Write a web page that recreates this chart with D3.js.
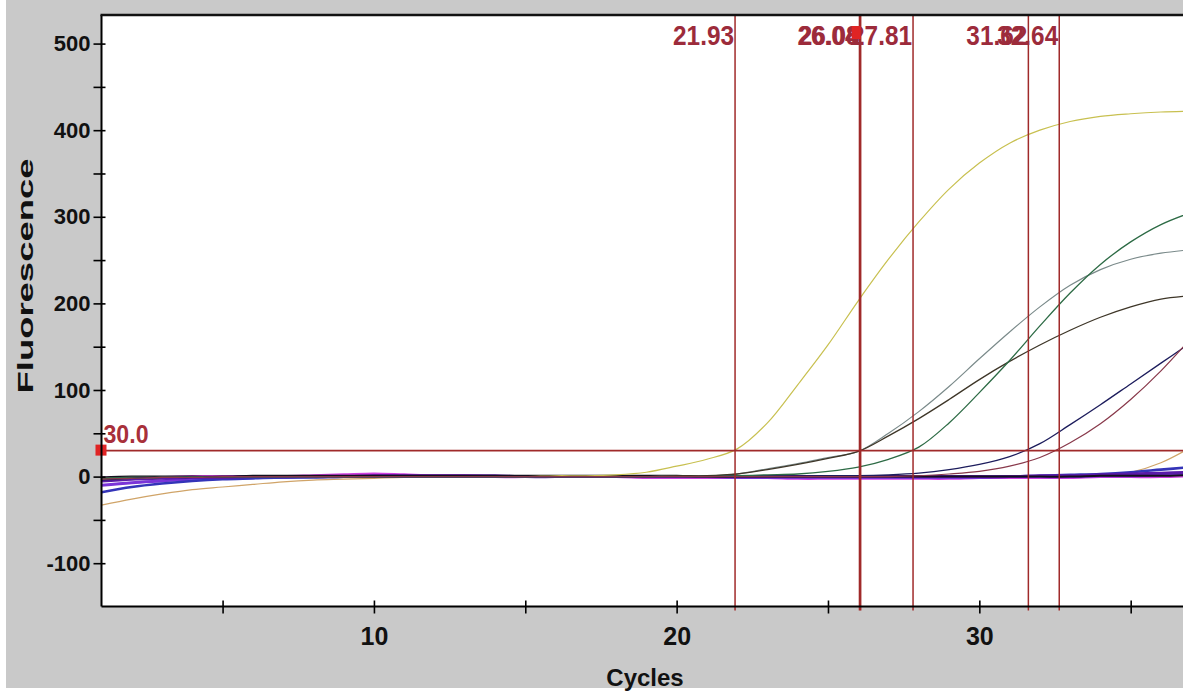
<!DOCTYPE html>
<html><head><meta charset="utf-8">
<script src="https://cdn.jsdelivr.net/npm/d3@7"></script>
<style>html,body{margin:0;padding:0;background:#fff;} svg{display:block;}</style>
</head><body><svg id="c" width="1183" height="695"></svg>
<script>
// ---------- data ----------
const cycles = d3.range(1, 38); // 1..37
const yellowCurve = [-3,-2,-1,-1,0,0,0,0,0,0,0,0,0,0,0,1,1,2,5,12,20,32,62,106,152,203,251,294,332,362,385,400,410,416,419,421,422];
const grayCurve   = [-2,-1,-1,0,0,0,0,0,0,0,0,0,0,0,0,0,0,0,0,1,1,3,9,15,22,29,50,75,104,136,167,196,221,239,251,258,262];
const darkCurve   = [-2,-1,-1,0,0,0,0,0,0,0,0,0,0,0,0,0,0,0,0,1,1,3,8,14,21,29,47,67,89,112,133,152,169,184,196,205,209];
const greenCurve  = [-2,-1,-1,0,0,0,0,0,0,0,0,0,0,0,0,0,0,0,0,0,0,1,2,3,6,11,20,34,62,97,134,174,212,245,271,291,305];
const navyCurve   = [-4,-2,-1,-1,0,0,0,0,0,0,0,0,0,0,0,0,0,0,0,0,0,0,0,0,1,1,2,4,8,14,23,38,60,83,107,131,155];
const maroonCurve = [-3,-2,-1,-1,0,0,0,0,0,0,0,0,0,0,0,0,0,0,0,0,0,0,0,0,0,0,0,1,3,6,12,22,39,61,89,122,160];
const tanCurve    = [-33,-26,-20,-15,-12,-9,-6,-4,-3,-2,-1,-1,-1,0,0,0,0,0,0,0,0,0,0,0,0,0,0,0,0,0,0,0,0,1,5,16,34];
const purpleBase  = [-5,-3,-2,-1,-1,0,0,0,0,1,1,1,1,1,0,0,0,0,0,0,0,0,0,0,0,0,0,0,0,0,0,1,1,2,3,4,5];
const violetBase  = [-10,-7,-5,-3,-2,-1,-1,0,0,0,0,0,0,0,0,0,0,0,0,0,0,-1,-1,-1,-1,-1,-1,-1,-1,-1,0,0,0,1,1,2,3];
const blueBase    = [-18,-12,-8,-5,-3,-2,-1,-1,0,0,0,0,0,0,0,0,0,0,0,0,0,0,0,0,0,0,0,0,0,0,0,1,2,3,5,8,11];
const blackBase   = [-1,0,0,0,0,1,1,1,1,1,1,1,1,1,1,1,1,1,1,1,0,0,0,0,0,0,0,0,0,0,0,0,0,1,1,1,2];
const magentaBase = [-2,-1,-1,0,0,0,0,1,2,3,2,1,1,0,0,0,0,0,-1,-1,-1,-1,-1,-2,-2,-2,-2,-2,-2,-1,-1,-1,-1,0,0,0,1];

const ctValues = [21.93, 26.04, 26.08, 27.81, 31.62, 32.64];
const ctLabels = ["21.93", "26.04", "26.08", "27.81", "31.62", "32.64"];
const threshold = 30;
const thresholdLabel = "30.0";
const xTickValues = [5,10,15,20,25,30,35];
const xTickLabels = {10:"10", 20:"20", 30:"30"};
const yTickValues = [-100,-50,0,50,100,150,200,250,300,350,400,450,500];
const yTickLabels = {"-100":"-100", "0":"0", "100":"100", "200":"200", "300":"300", "400":"400", "500":"500"};
const xTitle = "Cycles";
const yTitle = "Fluorescence";

const series = [
  {v: tanCurve,    c: "#d0a468", w: 1.2},
  {v: magentaBase, c: "#d040e0", w: 3},
  {v: violetBase,  c: "#7a34d8", w: 3},
  {v: blueBase,    c: "#3434b8", w: 2.6},
  {v: purpleBase,  c: "#5a1aa8", w: 3},
  {v: blackBase,   c: "#14101e", w: 2},
  {v: yellowCurve, c: "#c8c050", w: 1.2},
  {v: grayCurve,   c: "#7a8a8a", w: 1.2},
  {v: darkCurve,   c: "#3e3628", w: 1.3},
  {v: greenCurve,  c: "#2d6b45", w: 1.3},
  {v: navyCurve,   c: "#1c1c5c", w: 1.3},
  {v: maroonCurve, c: "#88384a", w: 1.2}
];

// ---------- layout ----------
const svg = d3.select("#c");
const W = 1183, H = 695;
const x = d3.scaleLinear().domain([1, 40]).range([101.5, 101.5 + 39 * 30.27]);
const y = d3.scaleLinear().domain([-150, 533]).range([606.5, 15]);
const plotL = x(1), plotT = y(533), plotB = y(-150);

svg.append("rect").attr("x", 0).attr("y", 0).attr("width", W).attr("height", H).attr("fill", "#ffffff");
svg.append("rect").attr("x", 6).attr("y", 0).attr("width", W - 6).attr("height", 688).attr("fill", "#c9c9c9");
svg.append("rect").attr("x", plotL).attr("y", plotT).attr("width", W - plotL).attr("height", plotB - plotT).attr("fill", "#ffffff");

svg.append("clipPath").attr("id", "clip").append("rect")
  .attr("x", plotL).attr("y", plotT).attr("width", W - plotL).attr("height", plotB - plotT);

const g = svg.append("g").attr("clip-path", "url(#clip)");
const line = d3.line().x((d, i) => x(cycles[i])).y(d => y(d)).curve(d3.curveCatmullRom.alpha(0.5));
series.forEach(s => {
  g.append("path").datum(s.v).attr("d", line).attr("fill", "none")
    .attr("stroke", s.c).attr("stroke-width", s.w).attr("stroke-linejoin", "round");
});

// threshold
const red = "#a02a2a";
svg.append("line").attr("x1", plotL).attr("x2", W).attr("y1", y(threshold)).attr("y2", y(threshold))
  .attr("stroke", red).attr("stroke-width", 1.6);
svg.append("rect").attr("x", plotL - 6).attr("y", y(threshold) - 6).attr("width", 11).attr("height", 11).attr("fill", "#e02424");
svg.append("text").attr("x", plotL + 2).attr("y", y(threshold) - 8)
  .attr("font-family", "Liberation Sans, Arial, sans-serif").attr("font-weight", "bold")
  .attr("font-size", 25).attr("fill", "#a8303a").attr("textLength", 45).attr("lengthAdjust", "spacingAndGlyphs")
  .text(thresholdLabel);

// Ct lines
ctValues.forEach((c, i) => {
  svg.append("line").attr("x1", x(c)).attr("x2", x(c)).attr("y1", plotT).attr("y2", plotB + 4)
    .attr("stroke", red).attr("stroke-width", 1.5);
});
ctValues.forEach((c, i) => {
  svg.append("text").attr("x", x(c) - 1).attr("y", 45).attr("text-anchor", "end")
    .attr("font-family", "Liberation Sans, Arial, sans-serif").attr("font-weight", "bold")
    .attr("font-size", 28).attr("fill", "#9c2b3b").attr("textLength", 61).attr("lengthAdjust", "spacingAndGlyphs")
    .text(ctLabels[i]);
});
svg.append("rect").attr("x", x(ctValues[2]) - 9).attr("y", 26).attr("width", 9).attr("height", 13).attr("fill", "#e02424");

// axes
const fontFam = "Liberation Sans, Arial, sans-serif";
const yAxis = d3.axisLeft(y).tickValues(yTickValues).tickSize(8).tickSizeOuter(0).tickPadding(3)
  .tickFormat(d => yTickLabels[String(d)] || "");
const ya = svg.append("g").attr("transform", `translate(${plotL},0)`).call(yAxis);
ya.select(".domain").attr("stroke", "#000").attr("stroke-width", 2).attr("d", `M0,${plotT}V${plotB}`);
ya.selectAll(".tick line").attr("x1", 4).attr("stroke", "#000").attr("stroke-width", 1.6);
ya.selectAll(".tick text").attr("font-family", fontFam).attr("font-weight", "bold").attr("font-size", 22).attr("fill", "#111");

const xAxis = d3.axisBottom(x).tickValues(xTickValues).tickSize(7).tickSizeOuter(0)
  .tickFormat(d => xTickLabels[d] || "");
const xa = svg.append("g").attr("transform", `translate(0,${plotB})`).call(xAxis);
xa.select(".domain").attr("stroke", "#000").attr("stroke-width", 2).attr("d", `M${plotL},0H${W}`);
xa.selectAll(".tick line").attr("y1", -6).attr("stroke", "#000").attr("stroke-width", 1.6);
xa.selectAll(".tick text").attr("y", 38).attr("dy", 0).attr("font-family", fontFam).attr("font-weight", "bold").attr("font-size", 25).attr("fill", "#111");

// top border
svg.append("line").attr("x1", plotL - 1).attr("x2", W).attr("y1", plotT).attr("y2", plotT).attr("stroke", "#111").attr("stroke-width", 2.5);

// titles
svg.append("text").attr("x", 645).attr("y", 686).attr("text-anchor", "middle")
  .attr("font-family", fontFam).attr("font-weight", "bold").attr("font-size", 24).attr("fill", "#111").text(xTitle);
svg.append("text").attr("transform", "translate(33,276) rotate(-90)").attr("text-anchor", "middle")
  .attr("font-family", fontFam).attr("font-weight", "bold").attr("font-size", 22).attr("fill", "#111")
  .attr("textLength", 235).attr("lengthAdjust", "spacingAndGlyphs").text(yTitle);
</script></body></html>
